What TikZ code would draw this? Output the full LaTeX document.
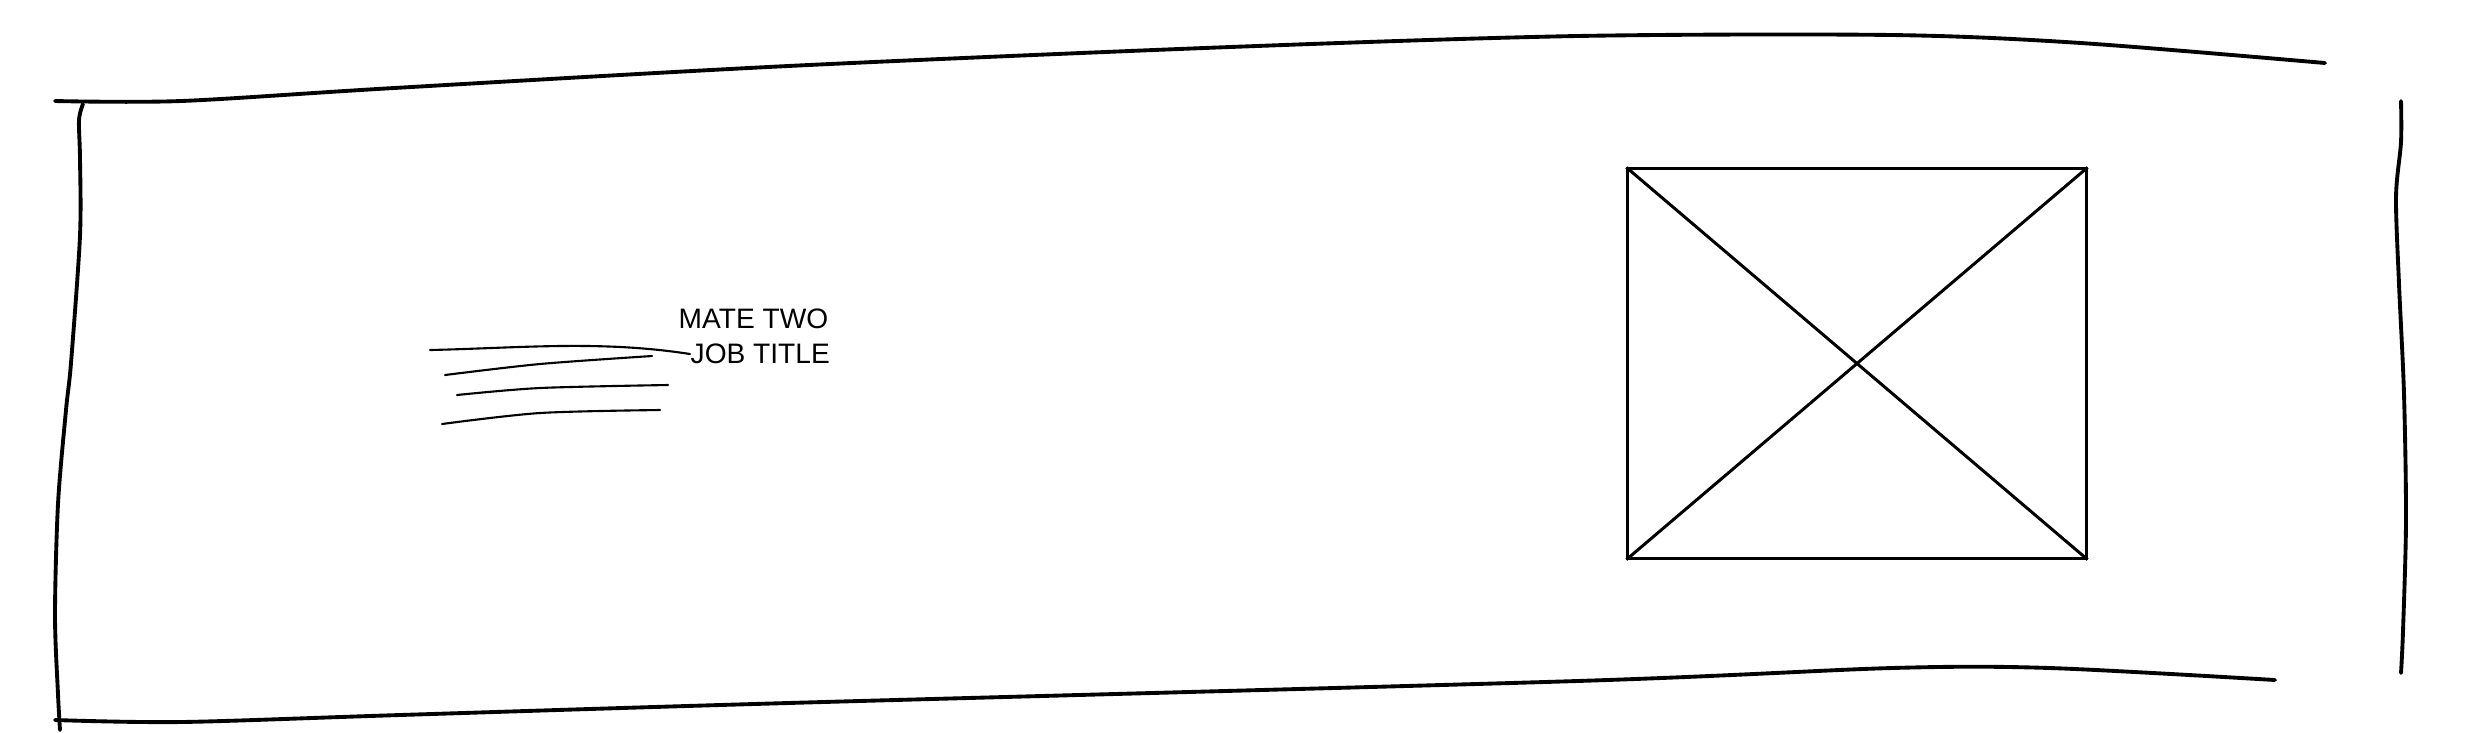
\documentclass[tikz,border=0pt]{standalone}
\usepackage{fontspec}
\setsansfont{Liberation Sans}
\usetikzlibrary{positioning, calc}

\begin{document}
\begin{tikzpicture}[x=0.01cm, y=-0.01cm]

\tikzset{
  frame/.style={line width=1.1pt, line cap=round, line join=round},
  scribble/.style={line width=0.6pt, line cap=round},
  photo/.style={line width=0.85pt},
  hand/.style={font=\sffamily\fontsize{8}{9}\selectfont, inner sep=0pt, anchor=west},
}

\useasboundingbox (0,0) rectangle (2472,732);

% ---- Outer frame (hand drawn) ----------------------------------------------
\draw[frame] plot[smooth] coordinates {(55,101) (181,101) (394,88) (788,66)
  (1230,47) (1577,36) (1892,35) (2081,43) (2325,63)};
\draw[frame] plot[smooth] coordinates {(83,104) (79,120) (80,158) (80,236)
  (71,363) (66,410) (58,504) (55,615) (58,694) (60,730)};
\draw[frame] plot[smooth] coordinates {(55,720) (181,722) (400,715) (788,703)
  (1577,681) (1892,668) (2050,668) (2275,680)};
\draw[frame] plot[smooth] coordinates {(2401,101) (2401,142) (2396,197)
  (2399,284) (2404,394) (2406,520) (2403,631) (2401,673)};

% ---- Name / title ----------------------------------------------------------
\node[hand] (name) at (678,319) {MATE TWO};
\node[hand] (title) at (690,354) {JOB TITLE};

% ---- Text lines ------------------------------------------------------------
\coordinate (l1) at (430,350);
\draw[scribble] (l1) .. controls (520,348) and (600,340) .. (title.west);
\draw[scribble] plot[smooth] coordinates {(445,375) (540,364) (652,356)};
\draw[scribble] plot[smooth] coordinates {(457,395) (540,388) (668,385)};
\draw[scribble] plot[smooth] coordinates {(442,424) (540,413) (660,410)};

% ---- Image placeholder -----------------------------------------------------
\node[draw, photo, minimum width=4.58cm, minimum height=3.89cm, inner sep=0pt]
  (pic) at (1857,363.5) {};
\draw[photo] (pic.north west) -- (pic.south east);
\draw[photo] (pic.north east) -- (pic.south west);

\end{tikzpicture}
\end{document}
